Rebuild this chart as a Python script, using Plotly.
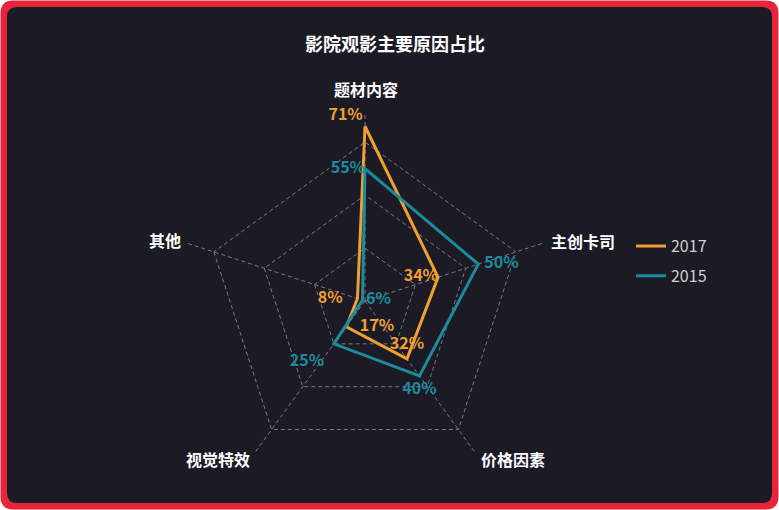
import plotly.graph_objects as go

# chart data
indicators = ['题材内容', '主创卡司', '价格因素', '视觉特效', '其他']
values_2017 = [71, 34, 32, 17, 8]
values_2015 = [55, 50, 40, 25, 6]

# label placement (invisible marker size controls the gap to the point)
pos_2017 = ['top left', 'middle left', 'top center', 'middle right', 'middle left']
pos_2015 = ['middle left', 'middle right', 'bottom center', 'bottom left', 'middle right']
gap_2017 = [2, 0, 8, 20, 22]
gap_2015 = [0, 8, 8, 14, 4]

orange = '#F0A030'
teal = '#1C8B9D'
bg = '#1B1A25'
grid = '#7A7A84'

fig = go.Figure()


def add_series(name, vals, color, positions, gaps):
    # close the loop by repeating the first point
    fig.add_trace(go.Scatterpolar(
        r=vals + vals[:1],
        theta=indicators + indicators[:1],
        name=name,
        legendgroup=name,
        mode='lines+markers+text',
        line=dict(color=color, width=3),
        marker=dict(size=gaps + gaps[:1], color='rgba(0,0,0,0)', opacity=0,
                    line=dict(width=0)),
        text=[f'{v}%' for v in vals] + [''],
        textposition=positions + ['top center'],
        textfont=dict(color=color, size=16, family='Noto Sans CJK SC', weight='bold'),
        cliponaxis=False,
        hoverinfo='skip',
    ))


add_series('2017', values_2017, orange, pos_2017, gap_2017)
add_series('2015', values_2015, teal, pos_2015, gap_2015)

# red rounded frame + dark card
def rounded(x0, y0, x1, y1, rx, ry):
    return (f'M {x0+rx},{y0} L {x1-rx},{y0} Q {x1},{y0} {x1},{y0+ry} '
            f'L {x1},{y1-ry} Q {x1},{y1} {x1-rx},{y1} L {x0+rx},{y1} '
            f'Q {x0},{y1} {x0},{y1-ry} L {x0},{y0+ry} Q {x0},{y0} {x0+rx},{y0} Z')

W, H = 779, 510
fig.add_shape(type='path', xref='paper', yref='paper', layer='below',
              path=rounded(0.5 / W, 0.5 / H, 1 - 0.5 / W, 1 - 0.5 / H, 13 / W, 13 / H),
              fillcolor='#E8243A', line=dict(width=0))
fig.add_shape(type='path', xref='paper', yref='paper', layer='below',
              path=rounded(7 / W, 7 / H, 1 - 7 / W, 1 - 7 / H, 10 / W, 10 / H),
              fillcolor=bg, line=dict(width=0))

# indicator names sit just outside the spoke ends (pixel centres)
name_pos = [(366, 89), (583, 241), (513, 459), (218, 459), (165, 240)]
for name, (px, py) in zip(indicators, name_pos):
    fig.add_annotation(text=name, x=px / W, y=1 - py / H, xref='paper', yref='paper',
                       xanchor='center', yanchor='middle', showarrow=False,
                       font=dict(size=16, color='white', weight='bold'))

fig.update_layout(
    width=W, height=H,
    margin=dict(l=0, r=0, t=0, b=0),
    paper_bgcolor='white',
    plot_bgcolor='rgba(0,0,0,0)',
    font=dict(family='Noto Sans CJK SC', color='white'),
    title=dict(text='影院观影主要原因占比', x=0.507, y=0.912, xanchor='center', yanchor='middle',
               font=dict(size=18, color='white', weight='bold')),
    legend=dict(x=0.81, y=0.488, xanchor='left', yanchor='middle',
                font=dict(size=16, color='#D0D0D0'), itemwidth=30,
                tracegroupgap=6, bgcolor='rgba(0,0,0,0)'),
    polar=dict(
        domain=dict(x=[177 / W, 553 / W], y=[21 / H, 397 / H]),
        bgcolor='rgba(0,0,0,0)',
        gridshape='linear',
        radialaxis=dict(range=[5, 76], tickvals=[25, 45, 65], showticklabels=False,
                        showline=False, ticks='', gridcolor=grid, griddash='4px,3px',
                        gridwidth=1),
        angularaxis=dict(direction='clockwise', rotation=90, showline=False,
                         gridcolor=grid, griddash='4px,3px', gridwidth=1,
                         showticklabels=False, ticks=''),
    ),
)

fig.write_html('out.html', config={'displayModeBar': False},
               post_script="document.body.style.margin='0';")
